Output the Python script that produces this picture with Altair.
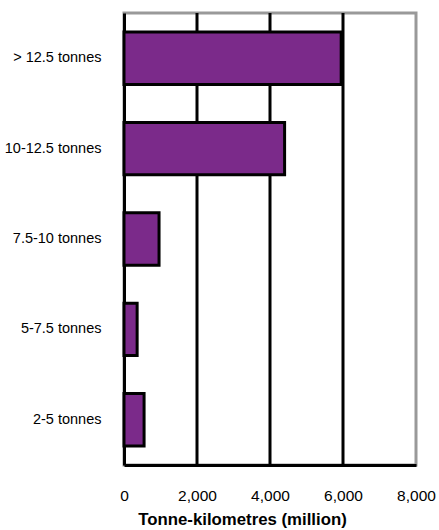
import altair as alt
import pandas as pd

categories = ["> 12.5 tonnes", "10-12.5 tonnes", "7.5-10 tonnes", "5-7.5 tonnes", "2-5 tonnes"]
values = [5950, 4400, 960, 360, 550]
x_ticks = [0, 2000, 4000, 6000, 8000]
grid_values = [2000, 4000, 6000]

df = pd.DataFrame({"cat": categories, "val": values})
grid_df = pd.DataFrame({"g": grid_values})

font = "Liberation Sans"

xscale = alt.Scale(domain=[0, 8000], nice=False)
xaxis = alt.Axis(values=x_ticks, format=",.0f", title="Tonne-kilometres (million)",
                 grid=False, ticks=False, domainColor="black", domainWidth=3,
                 labelFlush=False, labelOverlap=False, labelBound=False,
                 labelPadding=23, labelFontSize=15.5, labelFont=font, labelColor="black",
                 titleFont=font, titleFontSize=16.8, titleFontWeight="bold", titleColor="black",
                 titleX=118, titleY=59, titleAlign="center", titleBaseline="alphabetic")

grid = alt.Chart(grid_df).mark_rule(color="black", strokeWidth=3).encode(
    x=alt.X("g:Q", scale=xscale, axis=xaxis, title="Tonne-kilometres (million)")
)

bars = alt.Chart(df).mark_bar(
    color="#7B2A8A", stroke="black", strokeWidth=3, strokeJoin="miter"
).encode(
    x=alt.X("val:Q", scale=xscale, axis=xaxis, title="Tonne-kilometres (million)"),
    y=alt.Y("cat:N", sort=categories,
            scale=alt.Scale(paddingInner=0.42, paddingOuter=0.21),
            axis=alt.Axis(title=None, ticks=False, grid=False, domainColor="black", domainWidth=3,
                          labelPadding=23, labelFontSize=14.5, labelFont=font, labelColor="black")),
)

chart = alt.layer(grid, bars).properties(
    width=292, height=452,
    autosize=alt.AutoSizeParams(type="none"),
    padding={"left": 124, "top": 13, "right": 23, "bottom": 65},
).configure_view(
    stroke="#999999", strokeWidth=3
)

chart.save("out.html", embed_options={"renderer": "svg", "actions": False})
